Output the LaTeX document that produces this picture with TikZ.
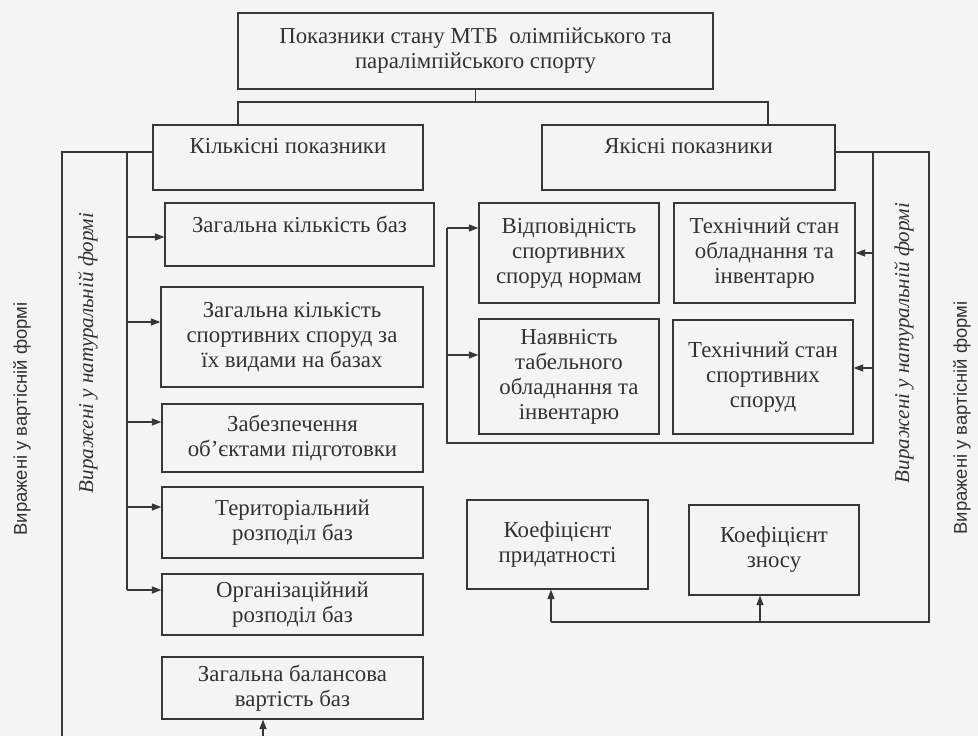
\documentclass[tikz,border=0pt]{standalone}
\usepackage{fontspec}
\setmainfont{Liberation Serif}
\newfontfamily\sidefont{Liberation Sans}
\usetikzlibrary{arrows.meta}
\definecolor{paper}{RGB}{244,244,241}
\definecolor{ink}{RGB}{50,50,50}
\definecolor{wire}{RGB}{55,55,55}

\begin{document}
\begin{tikzpicture}[
    x=0.02cm, y=-0.02cm,
    box/.style={rectangle, draw=wire, line width=0.7pt, align=center, text=ink, inner sep=1pt, font=\fontsize{13}{14.2}\selectfont},
    line/.style={draw=wire, line width=0.7pt},
    arrow/.style={line, -{Triangle[length=1.9mm, width=1.4mm]}},
    side/.style={rotate=90, text=ink, inner sep=0pt}
]
    \useasboundingbox (0,0) rectangle (978,736);
    \fill[paper] (0,0) rectangle (978,736);
    \clip (0,0) rectangle (978,736);

    % Header and the two groups
    \node[box, minimum width=9.5cm, minimum height=1.52cm] (top) at (475.5,51) {Показники стану МТБ~ олімпійського та\\паралімпійського спорту};
    \node[box, minimum width=5.4cm, inner ysep=0pt, text height=0.58cm, text depth=0.72cm] (kilk) at (288,157.5) {Кількісні показники};
    \node[box, minimum width=5.86cm, inner ysep=0pt, text height=0.58cm, text depth=0.72cm] (yak) at (688.5,157.5) {Якісні показники};

    % Quantitative indicators
    \node[box, minimum width=5.38cm, inner ysep=0pt, text height=0.6cm, text depth=0.66cm] (bases) at (299.5,234.5) {Загальна кількість баз};
    \node[box, minimum width=5.24cm, minimum height=2cm] (sites) at (292,337) {Загальна кількість\\спортивних споруд за\\їх видами на базах};
    \node[box, minimum width=5.22cm, minimum height=1.36cm] (objects) at (292.5,438) {Забезпечення\\об’єктами підготовки};
    \node[box, minimum width=5.22cm, minimum height=1.42cm] (territ) at (292.5,522.5) {Територіальний\\розподіл баз};
    \node[box, minimum width=5.22cm, minimum height=1.22cm] (organ) at (292.5,604.5) {Організаційний\\розподіл баз};
    \node[box, minimum width=5.22cm, minimum height=1.24cm] (balance) at (292.5,688) {Загальна балансова\\вартість баз};

    % Qualitative indicators
    \node[box, minimum width=3.6cm, minimum height=2cm] (norms) at (569,253) {Відповідність\\спортивних\\споруд нормам};
    \node[box, minimum width=3.62cm, minimum height=2cm] (equipstate) at (764.5,253) {Технічний стан\\обладнання та\\інвентарю};
    \node[box, minimum width=3.6cm, minimum height=2.3cm] (equipset) at (569,376.5) {Наявність\\табельного\\обладнання та\\інвентарю};
    \node[box, minimum width=3.6cm, minimum height=2.28cm] (sitestate) at (763,377) {Технічний стан\\спортивних\\споруд};
    \node[box, minimum width=3.62cm, minimum height=1.78cm] (fitness) at (557.5,544.5) {Коефіцієнт\\придатності};
    \node[box, minimum width=3.4cm, minimum height=1.8cm] (wear) at (774,550) {Коефіцієнт\\зносу};

    % Side captions
    \node[side, font=\sidefont\fontsize{10.5}{12}\selectfont] (costL) at (22,419) {Виражені у вартісній формі};
    \node[side, font=\itshape\fontsize{12}{14}\selectfont] (natL) at (88,353) {Виражені у натуральній формі};
    \node[side, font=\itshape\fontsize{12}{14}\selectfont] (natR) at (904,343) {Виражені у натуральній формі};
    \node[side, font=\sidefont\fontsize{10.5}{12}\selectfont] (costR) at (962,418) {Виражені у вартісній формі};

    \coordinate (hubL) at (238,102);
    \coordinate (hubR) at (768,102);
    \coordinate (outL) at (62,152);
    \coordinate (spineL) at (127,152);
    \coordinate (footL) at (62,760);
    \coordinate (footB) at (263,760);
    \coordinate (outR) at (929,152);
    \coordinate (spineR) at (873,152);
    \coordinate (footR) at (929,622);
    \coordinate (brL) at (447,443);
    \coordinate (brR) at (873,443);

    \draw[line] (top.south) -- (top.south |- hubL);
    \draw[line] (kilk.north -| hubL) -- (hubL) -- (hubR) -- (yak.north -| hubR);

    % Left brackets
    \draw[line] (kilk.west |- outL) -- (outL) -- (footL) -- (footB);
    \draw[arrow] (footB) -- (balance.south -| footB);
    \draw[line] (spineL) -- (spineL |- 0,590);
    \draw[arrow] (spineL |- 0,237) -- (bases.west |- 0,237);
    \draw[arrow] (spineL |- 0,322) -- (sites.west |- 0,322);
    \draw[arrow] (spineL |- 0,422) -- (objects.west |- 0,422);
    \draw[arrow] (spineL |- 0,507) -- (territ.west |- 0,507);
    \draw[arrow] (spineL |- 0,590) -- (organ.west |- 0,590);

    % Right brackets
    \draw[line] (yak.east |- outR) -- (outR) -- (footR) -- (footR -| 551,0);
    \draw[arrow] (footR -| 551,0) -- (fitness.south -| 551,0);
    \draw[arrow] (footR -| 760,0) -- (wear.south -| 760,0);
    \draw[line] (spineR) -- (brR) -- (brL) -- (brL |- 0,228);
    \draw[arrow] (brL |- 0,228) -- (norms.west |- 0,228);
    \draw[arrow] (brL |- 0,355) -- (equipset.west |- 0,355);
    \draw[arrow] (spineR |- 0,253) -- (equipstate.east |- 0,253);
    \draw[arrow] (spineR |- 0,368) -- (sitestate.east |- 0,368);
\end{tikzpicture}
\end{document}
